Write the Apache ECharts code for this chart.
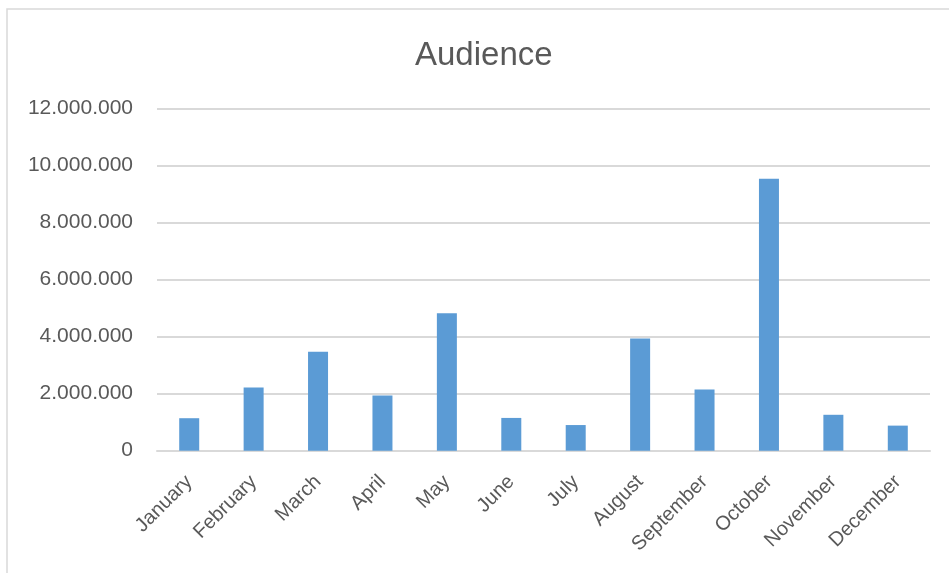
<!DOCTYPE html>
<html>
<head>
<meta charset="utf-8">
<script src="https://cdn.jsdelivr.net/npm/echarts@6/dist/echarts.min.js"></script>
<style>
  html, body { margin: 0; padding: 0; background: #fff; }
  #main { width: 949px; height: 573px; }
</style>
</head>
<body>
<div id="main"></div>
<script>
var months = ['January', 'February', 'March', 'April', 'May', 'June',
              'July', 'August', 'September', 'October', 'November', 'December'];
var audience = [1140000, 2220000, 3470000, 1940000, 4820000, 1150000,
                900000, 3940000, 2150000, 9540000, 1260000, 880000];

var chart = echarts.init(document.getElementById('main'));

// 12000000 -> 12.000.000
function dotted(v) {
    return String(v).replace(/\B(?=(\d{3})+(?!\d))/g, '.');
}

var option = {
    backgroundColor: '#fff',
    animation: false,
    title: {
        text: 'Audience',
        left: 410,
        top: 34,
        textStyle: {
            color: '#595959',
            fontFamily: 'Liberation Sans',
            fontWeight: 'normal',
            fontSize: 33
        }
    },
    graphic: [{
        type: 'rect',
        shape: { x: 7, y: 9, width: 1200, height: 1200 },
        style: { fill: 'none', stroke: '#d9d9d9', lineWidth: 1.5 },
        silent: true
    }],
    grid: {
        left: 157,
        right: 19,
        top: 108.7,
        bottom: 122.3
    },
    xAxis: {
        type: 'category',
        data: months,
        axisLine: { lineStyle: { color: '#d9d9d9', width: 2 } },
        axisTick: { show: false },
        axisLabel: {
            rotate: 45,
            interval: 0,
            margin: 28,
            color: '#595959',
            fontFamily: 'Liberation Sans',
            fontSize: 20
        }
    },
    yAxis: {
        type: 'value',
        min: 0,
        max: 12000000,
        interval: 2000000,
        axisLine: { show: false },
        axisTick: { show: false },
        splitLine: { lineStyle: { color: '#d9d9d9', width: 2 } },
        axisLabel: {
            margin: 24,
            color: '#595959',
            fontFamily: 'Liberation Sans',
            fontSize: 21,
            formatter: dotted
        }
    },
    series: [{
        name: 'Audience',
        type: 'bar',
        data: audience,
        barWidth: 20,
        itemStyle: { color: '#5b9bd5' }
    }]
};

chart.setOption(option);
</script>
</body>
</html>
